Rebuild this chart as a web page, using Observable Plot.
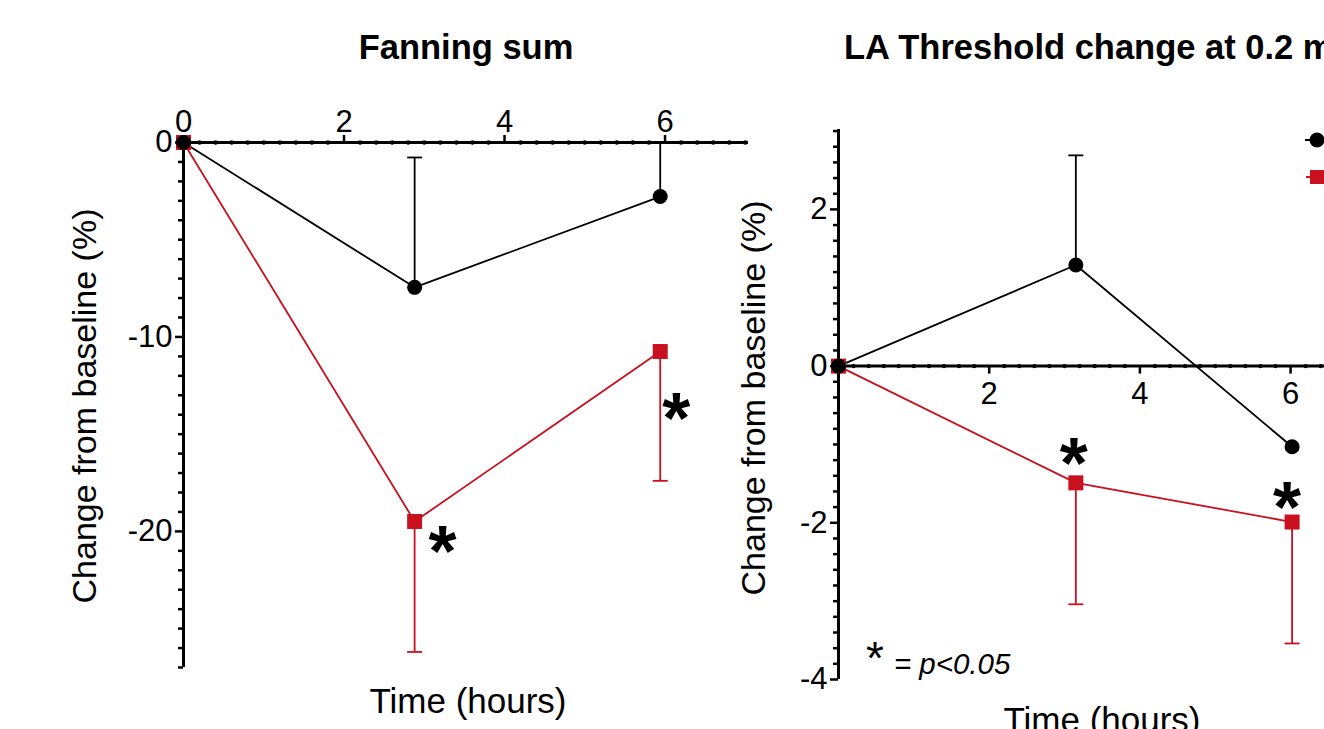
<!DOCTYPE html>
<html><head><meta charset="utf-8">
<script src="https://cdn.jsdelivr.net/npm/d3@7"></script>
<script src="https://cdn.jsdelivr.net/npm/@observablehq/plot@0.6"></script>
<style>
html,body{margin:0;padding:0;background:#fff;}
#wrap{position:relative;width:1324px;height:729px;overflow:hidden;background:#fff;font-family:"Liberation Sans",Arial,Helvetica,sans-serif;color:#000;}
.abs{position:absolute;white-space:nowrap;line-height:1;}
.title{font-weight:bold;font-size:34.5px;transform:translate(0,-50%);}
.ylab{font-size:34px;transform:translate(-50%,-50%) rotate(-90deg);}
.xlab{font-size:35px;transform:translate(-50%,-50%);}
.panel{position:absolute;top:0;}
</style></head><body>
<div id="wrap">
  <div class="abs title" style="left:466px;top:47px;transform:translate(-50%,-50%)">Fanning sum</div>
  <div class="abs title" style="left:844px;top:47px;">LA Threshold change at 0.2 ms</div>
  <div class="abs ylab" style="left:84px;top:406px;">Change from baseline (%)</div>
  <div class="abs ylab" style="left:753px;top:398px;">Change from baseline (%)</div>
  <div class="abs xlab" style="left:468px;top:700px;">Time (hours)</div>
  <div class="abs xlab" style="left:1102px;top:719px;">Time (hours)</div>
  <div class="abs" style="left:866px;top:635px;display:flex;align-items:baseline;">
    <span style="font-size:46px;">*</span><span style="font-size:29.5px;font-style:italic;margin-left:10px;">= p&lt;0.05</span>
  </div>
  <div id="left" class="panel" style="left:0px;"></div>
  <div id="right" class="panel" style="left:700px;"></div>
  <svg class="abs" style="left:1296px;top:125px;" width="28" height="70">
    <line x1="9" x2="28" y1="15" y2="15" stroke="#000" stroke-width="2"/>
    <circle cx="21" cy="15" r="7.5" fill="#000"/>
    <line x1="10" x2="28" y1="52" y2="52" stroke="#c8101e" stroke-width="2"/>
    <rect x="14" y="45" width="14" height="14" fill="#c8101e"/>
  </svg>
</div>
<script>
// ---------- data ----------
// Panel 1: Fanning sum
const fanningTimes = [0, 2.88, 5.94];
const fanningControl = [0, -7.45, -2.78];
const fanningControlErr = [0, 6.68, 2.78];     // SEM drawn upward
const fanningTreated = [0, -19.49, -10.75];
const fanningTreatedErr = [0, 6.71, 6.65];     // SEM drawn downward
const fanningSignificant = [false, true, true];

// Panel 2: LA threshold change
const thresholdTimes = [0, 3.15, 6.02];
const thresholdControl = [0, 1.29, -1.03];
const thresholdControlErr = [0, 1.40, 0];
const thresholdTreated = [0, -1.49, -1.99];
const thresholdTreatedErr = [0, 1.55, 1.55];
const thresholdSignificant = [false, true, true];

// tick labels
const fanningXTicks = [0, 2, 4, 6];
const fanningYTicks = [0, -10, -20];
const thresholdXTicks = [2, 4, 6];
const thresholdYTicks = [-4, -2, 0, 2];

// ---------- styling ----------
const BLACK = "#000";
const RED = "#c8101e";
const FONT = '"Liberation Sans", Arial, Helvetica, sans-serif';
const TICKFONT = 31;

const cap = {draw(ctx, size) { const w = Math.sqrt(size / Math.PI); ctx.moveTo(-w, 0); ctx.lineTo(w, 0); }};

function rows(times, vals, errs, dir, sig) {
  return times.map((t, i) => ({t, v: vals[i], e: errs[i], end: vals[i] + dir * errs[i], sig: sig ? sig[i] : false}));
}

function seriesMarks(control, treated, starOpts) {
  const cErr = control.filter(d => d.e > 0);
  const tErr = treated.filter(d => d.e > 0);
  const marks = [
    Plot.ruleX(tErr, {x: "t", y1: "v", y2: "end", stroke: RED, strokeWidth: 1.8}),
    Plot.dot(tErr, {x: "t", y: "end", symbol: cap, r: 7.5, stroke: RED, strokeWidth: 1.8, fill: "none"}),
    Plot.ruleX(cErr, {x: "t", y1: "v", y2: "end", stroke: BLACK, strokeWidth: 1.8}),
    Plot.dot(cErr, {x: "t", y: "end", symbol: cap, r: 7.5, stroke: BLACK, strokeWidth: 1.8, fill: "none"}),
    Plot.line(treated, {x: "t", y: "v", stroke: RED, strokeWidth: 1.8}),
    Plot.line(control, {x: "t", y: "v", stroke: BLACK, strokeWidth: 1.8}),
    Plot.dot(treated, {x: "t", y: "v", symbol: "square", r: 8.46, fill: RED, stroke: null}),
    Plot.dot(control, {x: "t", y: "v", r: 7.5, fill: BLACK, stroke: null})
  ];
  const sigRows = treated.filter(d => d.sig);
  sigRows.forEach((d, i) => {
    marks.push(Plot.text([d], {x: "t", y: "v", text: () => "*", dx: starOpts[i][0], dy: starOpts[i][1],
      fontSize: 72, fontWeight: "bold", fill: BLACK, textAnchor: "middle", lineAnchor: "middle"}));
  });
  return marks;
}

// ---------- left panel ----------
{
  const W = 760, H = 729, mt = 142, mb = 62, ml = 183, mr = 12;
  const control = rows(fanningTimes, fanningControl, fanningControlErr, +1);
  const treated = rows(fanningTimes, fanningTreated, fanningTreatedErr, -1, fanningSignificant);
  const minorX = d3.range(1, 36).filter(i => i % 10 !== 0).map(i => i / 5);
  const minorY = d3.range(-27, 0).filter(v => v % 10 !== 0);
  const chart = Plot.plot({
    width: W, height: H, marginTop: mt, marginBottom: mb, marginLeft: ml, marginRight: mr,
    x: {domain: [0, 7.04]},
    y: {domain: [-27, 0]},
    style: {fontFamily: FONT, fontSize: TICKFONT + "px", color: "#000", background: "transparent", overflow: "visible"},
    marks: [
      Plot.ruleX([0], {strokeWidth: 3}),
      Plot.ruleY([0], {strokeWidth: 3}),
      Plot.dot(minorX, {x: d => d, y: 0, r: 2.2, fill: BLACK, stroke: null}),
      Plot.axisX({anchor: "top", ticks: fanningXTicks, tickSize: 8, tickPadding: 3, strokeWidth: 2.5, label: null, fontSize: TICKFONT, tickFormat: d => String(d)}),
      Plot.axisY({anchor: "left", ticks: minorY, tickSize: 5, strokeWidth: 2.5, label: null, tickFormat: () => ""}),
      Plot.axisY({anchor: "left", ticks: fanningYTicks, tickSize: 8, tickPadding: 3, strokeWidth: 2.5, label: null, fontSize: TICKFONT, tickFormat: d => String(d)}),
      ...seriesMarks(control, treated, [[28, 31], [16, 68]])
    ]
  });
  document.getElementById("left").appendChild(chart);
}

// ---------- right panel ----------
{
  const W = 624, H = 729, mt = 129, mb = 50, ml = 138, mr = 0;
  const ydom = [-4, 3.02];
  const axisShift = -((0 - ydom[0]) / (ydom[1] - ydom[0])) * (H - mt - mb);
  const control = rows(thresholdTimes, thresholdControl, thresholdControlErr, +1);
  const treated = rows(thresholdTimes, thresholdTreated, thresholdTreatedErr, -1, thresholdSignificant);
  const minorX = d3.range(1, 33).filter(i => i % 10 !== 0).map(i => i / 5);
  const minorY = d3.range(-20, 16).filter(i => i % 10 !== 0).map(i => i / 5);
  const chart = Plot.plot({
    width: W, height: H, marginTop: mt, marginBottom: mb, marginLeft: ml, marginRight: mr,
    x: {domain: [0, 6.45]},
    y: {domain: ydom},
    style: {fontFamily: FONT, fontSize: TICKFONT + "px", color: "#000", background: "transparent", overflow: "visible"},
    marks: [
      Plot.ruleX([0], {strokeWidth: 3}),
      Plot.ruleY([0], {strokeWidth: 3}),
      Plot.dot(minorX, {x: d => d, y: 0, r: 2.2, fill: BLACK, stroke: null}),
      Plot.axisX({anchor: "bottom", dy: axisShift, ticks: thresholdXTicks, tickSize: 8, tickPadding: 8, strokeWidth: 2.5, label: null, fontSize: TICKFONT, tickFormat: d => String(d)}),
      Plot.axisY({anchor: "left", ticks: minorY, tickSize: 5, strokeWidth: 2.5, label: null, tickFormat: () => ""}),
      Plot.axisY({anchor: "left", ticks: thresholdYTicks, tickSize: 8, tickPadding: 3, strokeWidth: 2.5, label: null, fontSize: TICKFONT, tickFormat: d => String(d)}),
      ...seriesMarks(control, treated, [[-2, -18], [-5, -13]])
    ]
  });
  document.getElementById("right").appendChild(chart);
}
</script>
</body></html>
